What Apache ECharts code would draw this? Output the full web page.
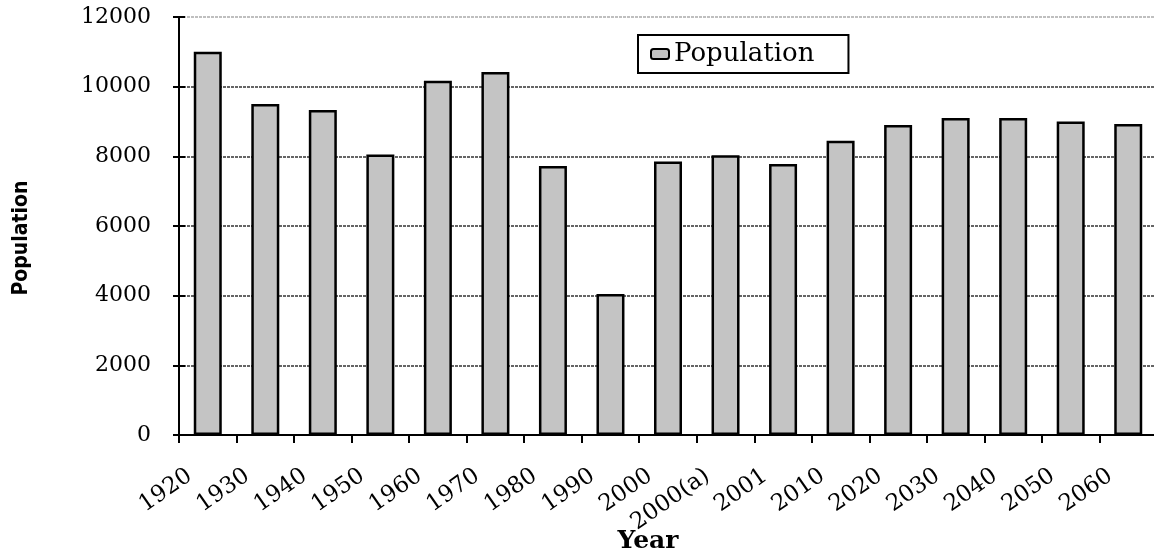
<!DOCTYPE html>
<html>
<head>
<meta charset="utf-8">
<script src="https://cdn.jsdelivr.net/npm/echarts@6/dist/echarts.min.js"></script>
<style>html,body{margin:0;padding:0;background:#fff;}#c{width:1154px;height:555px;}</style>
</head>
<body>
<div id="c"></div>
<script>
const categories = ['1920','1930','1940','1950','1960','1970','1980','1990','2000','2000(a)','2001','2010','2020','2030','2040','2050','2060'];
const population = [11000, 9500, 9330, 8050, 10170, 10420, 7720, 4050, 7850, 8030, 7780, 8450, 8900, 9100, 9100, 9000, 8930];
const yTicks = [0, 2000, 4000, 6000, 8000, 10000, 12000];

const chart = echarts.init(document.getElementById('c'), null, {renderer: 'canvas'});
const serif = 'DejaVu Serif';
chart.setOption({
  animation: false,
  backgroundColor: '#fff',
  legend: {
    data: ['Population'],
    left: 638, top: 35,
    padding: [6, 34, 6, 12],
    borderColor: '#000', borderWidth: 2, backgroundColor: '#fff',
    itemWidth: 18, itemHeight: 10,
    textStyle: {fontFamily: serif, fontSize: 26, color: '#000'}
  },
  grid: {left: 179, top: 17, width: 978, height: 418, containLabel: false, outerBoundsMode: 'none'},
  xAxis: {
    type: 'category',
    data: categories,
    name: 'Year',
    nameLocation: 'middle',
    nameGap: 94,
    nameMoveOverlap: false,
    nameTextStyle: {fontFamily: serif, fontSize: 25, fontWeight: 'bold', color: '#000', padding: [0, 40, 0, 0]},
    axisLine: {lineStyle: {color: '#000', width: 2}},
    axisTick: {show: true, length: 8, lineStyle: {color: '#000', width: 2}},
    axisLabel: {rotate: 35, margin: 26, padding: [0, 22, 0, 0], fontFamily: serif, fontSize: 23, color: '#000', interval: 0}
  },
  yAxis: [{
    type: 'value',
    min: yTicks[0], max: yTicks[yTicks.length - 1], interval: 2000,
    name: 'Population',
    nameLocation: 'middle',
    nameGap: 147,
    nameMoveOverlap: false,
    nameTextStyle: {fontFamily: 'DejaVu Sans Condensed', fontSize: 21, fontWeight: 'bold', color: '#000', padding: [0, 24, 0, 0]},
    axisLine: {show: true, lineStyle: {color: '#000', width: 2}},
    axisTick: {show: true, length: 6, lineStyle: {color: '#000', width: 2}},
    axisLabel: {margin: 28, fontFamily: serif, fontSize: 22, color: '#000', formatter: function (v) { return String(v); }},
    splitLine: {show: true, lineStyle: {color: ['#000', '#333', '#333', '#333', '#333', '#333', '#aaa'], width: 1.5, type: [3, 1]}}
  }, {
    type: 'value',
    position: 'left',
    min: yTicks[0], max: yTicks[yTicks.length - 1], interval: 2000,
    axisLine: {show: false},
    axisTick: {show: true, inside: true, length: 6, lineStyle: {color: '#000', width: 2}},
    axisLabel: {show: false},
    splitLine: {show: false}
  }],
  series: [{
    name: 'Population',
    type: 'bar',
    data: population,
    barWidth: 28,
    itemStyle: {color: '#c4c4c4', borderColor: '#000', borderWidth: 2.5}
  }]
});
</script>
</body>
</html>
